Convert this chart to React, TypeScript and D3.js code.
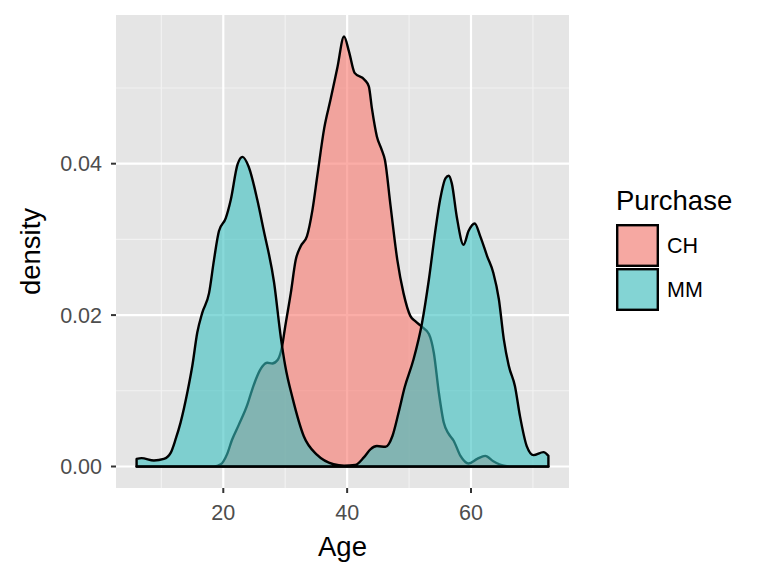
import React from "react";
import * as d3 from "d3";

const chAge = [6, 18.5, 19.6, 20.6, 21.4, 22.5, 23.9, 24.6, 25.5, 26.3, 27.1, 27.9, 28.8, 29.5, 30.0, 30.9, 31.7, 32.5, 33.5, 34.4, 35.2, 36.3, 37.3, 38.4, 39.5, 40.3, 41.2, 42.8, 43.5, 44.0, 44.8, 45.6, 46.1, 47.0, 48.1, 49.1, 50.2, 51.0, 52.0, 53.2, 54.0, 54.8, 55.6, 56.4, 57.2, 58.3, 59.6, 61.0, 62.3, 63.6, 65.3, 66.5, 72.5];
const chDensity = [0, 0, 0.0003, 0.0016, 0.0035, 0.0055, 0.0082, 0.0100, 0.0120, 0.0132, 0.0137, 0.0136, 0.0141, 0.0159, 0.0185, 0.0229, 0.0273, 0.0291, 0.0304, 0.0339, 0.0385, 0.0447, 0.0484, 0.0526, 0.0568, 0.0548, 0.0520, 0.0511, 0.0502, 0.0473, 0.0436, 0.0418, 0.0405, 0.0345, 0.0273, 0.0229, 0.0199, 0.0192, 0.0185, 0.0175, 0.0150, 0.0098, 0.0058, 0.0043, 0.0034, 0.0014, 0.0004, 0.0010, 0.0014, 0.0007, 0.0001, 0, 0];

const mmAge = [6.0, 6.8, 8.8, 10.4, 11.5, 12.3, 13.1, 14.2, 15.0, 15.8, 16.6, 17.7, 18.5, 19.3, 20.4, 21.2, 22.3, 23.1, 24.1, 25.5, 26.5, 28.2, 29.3, 30.0, 31.2, 33.0, 35.2, 37.8, 39.5, 41.3, 42.7, 43.8, 44.8, 46.2, 47.3, 48.3, 49.3, 50.7, 52.1, 53.2, 54.2, 55.0, 55.9, 56.4, 56.9, 57.7, 58.8, 59.6, 60.6, 61.5, 62.6, 63.6, 64.5, 65.3, 66.1, 67.1, 67.9, 69.0, 70.1, 71.7, 72.5];
const mmDensity = [0.0010, 0.0011, 0.0008, 0.0010, 0.0018, 0.0036, 0.0058, 0.0098, 0.0133, 0.0177, 0.0203, 0.0229, 0.0273, 0.0311, 0.0328, 0.0352, 0.0399, 0.0409, 0.0396, 0.0352, 0.0313, 0.0243, 0.0170, 0.0133, 0.0090, 0.0040, 0.0015, 0.0003, 0.0001, 0.0002, 0.0012, 0.0023, 0.0027, 0.0026, 0.0040, 0.0071, 0.0105, 0.0141, 0.0190, 0.0247, 0.0309, 0.0352, 0.0381, 0.0384, 0.0374, 0.0330, 0.0293, 0.0311, 0.0321, 0.0304, 0.0278, 0.0256, 0.0221, 0.0168, 0.0133, 0.0106, 0.0067, 0.0027, 0.0015, 0.0019, 0.0014];

const groups = ["CH", "MM"];
const groupColors = ["#F8766D", "#39C0C0"];
const xTicks = [20, 40, 60];
const xMinor = [10, 30, 50, 70];
const yTicks = [0, 0.02, 0.04];
const yTickLabels = ["0.00", "0.02", "0.04"];
const yMinor = [0.01, 0.03, 0.05];

const FONT = "'Liberation Sans', Arial, Helvetica, sans-serif";

export default function App() {
  const W = 768, H = 576;
  const pL = 116, pR = 569, pT = 15, pB = 488;

  const allAge = [...chAge, ...mmAge];
  const xmin = d3.min(allAge)!, xmax = d3.max(allAge)!;
  const xpad = (xmax - xmin) * 0.05;
  const x = d3.scaleLinear().domain([xmin - xpad, xmax + xpad]).range([pL, pR]);
  const ymax = d3.max([...chDensity, ...mmDensity])!;
  const y = d3.scaleLinear().domain([-ymax * 0.05, ymax * 1.05]).range([pB, pT]);

  const series = [
    { name: groups[0], color: groupColors[0], pts: chAge.map((a, i) => [a, chDensity[i]] as [number, number]) },
    { name: groups[1], color: groupColors[1], pts: mmAge.map((a, i) => [a, mmDensity[i]] as [number, number]) },
  ];

  const area = d3
    .area<[number, number]>()
    .x((d) => x(d[0]))
    .y0(() => y(0))
    .y1((d) => y(d[1]))
    .curve(d3.curveMonotoneX);

  const legX = 616;
  const keyS = 43;

  return (
    <svg width={W} height={H} style={{ position: "absolute", left: 0, top: 0 }} fontFamily={FONT}>
      <rect x={0} y={0} width={W} height={H} fill="#ffffff" />
      <rect x={pL} y={pT} width={pR - pL} height={pB - pT} fill="#E5E5E5" />
      {xMinor.map((v) => (
        <line key={"xm" + v} x1={x(v)} x2={x(v)} y1={pT} y2={pB} stroke="#F2F2F2" strokeWidth={1.1} />
      ))}
      {yMinor.map((v) => (
        <line key={"ym" + v} x1={pL} x2={pR} y1={y(v)} y2={y(v)} stroke="#F2F2F2" strokeWidth={1.1} />
      ))}
      {xTicks.map((v) => (
        <line key={"xM" + v} x1={x(v)} x2={x(v)} y1={pT} y2={pB} stroke="#fff" strokeWidth={2.2} />
      ))}
      {yTicks.map((v) => (
        <line key={"yM" + v} x1={pL} x2={pR} y1={y(v)} y2={y(v)} stroke="#fff" strokeWidth={2.2} />
      ))}
      {series.map((s) => (
        <path
          key={s.name}
          d={area(s.pts) || ""}
          fill={s.color}
          fillOpacity={0.6}
          stroke="#000"
          strokeWidth={2.4}
          strokeLinejoin="round"
        />
      ))}
      {xTicks.map((v) => (
        <g key={"xt" + v}>
          <line x1={x(v)} x2={x(v)} y1={pB} y2={pB + 5} stroke="#333" strokeWidth={2} />
          <text x={x(v)} y={pB + 32} textAnchor="middle" fontSize={21.5} fill="#4D4D4D">
            {v}
          </text>
        </g>
      ))}
      {yTicks.map((v, i) => (
        <g key={"yt" + v}>
          <line x1={pL - 5} x2={pL} y1={y(v)} y2={y(v)} stroke="#333" strokeWidth={2} />
          <text x={pL - 14} y={y(v)} dy="0.36em" textAnchor="end" fontSize={21.5} fill="#4D4D4D">
            {yTickLabels[i]}
          </text>
        </g>
      ))}
      <text x={(pL + pR) / 2} y={556} textAnchor="middle" fontSize={27.5} fill="#000">
        Age
      </text>
      <text
        transform={`translate(40, ${(pT + pB) / 2}) rotate(-90)`}
        textAnchor="middle"
        fontSize={27.5}
        fill="#000"
      >
        density
      </text>
      <text x={legX} y={210} fontSize={27.5} fill="#000">
        Purchase
      </text>
      {series.map((s, i) => (
        <g key={"lg" + s.name}>
          <rect x={legX} y={224 + i * (keyS + 1)} width={keyS} height={keyS} fill="#F2F2F2" />
          <rect
            x={legX + 1.2}
            y={224 + i * (keyS + 1) + 1.2}
            width={keyS - 2.4}
            height={keyS - 2.4}
            fill={s.color}
            fillOpacity={0.6}
            stroke="#000"
            strokeWidth={2.4}
          />
          <text x={legX + keyS + 8} y={224 + i * (keyS + 1) + keyS / 2} dy="0.36em" fontSize={21.5} fill="#000">
            {s.name}
          </text>
        </g>
      ))}
    </svg>
  );
}
